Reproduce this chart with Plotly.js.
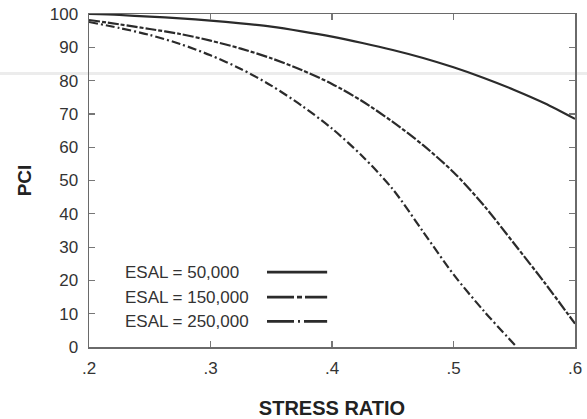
<!DOCTYPE html>
<html>
<head>
<meta charset="utf-8">
<script src="https://cdn.plot.ly/plotly-3.0.1.min.js"></script>
<style>html,body{margin:0;padding:0;background:#fff;}#chart{width:587px;height:419px;}</style>
</head>
<body>
<div id="chart"></div>
<script>
// ---- data ----
const stressRatio = [0.2, 0.225, 0.25, 0.275, 0.3, 0.325, 0.35, 0.375, 0.4, 0.425, 0.45, 0.475, 0.5, 0.525, 0.55, 0.575, 0.6];
const pci50k  = [100, 99.7, 99.2, 98.7, 98.0, 97.2, 96.2, 94.8, 93.2, 91.3, 89.2, 86.8, 84.0, 80.8, 77.2, 73.2, 68.5];
const pci150k = [98.2, 96.9, 95.5, 94.0, 92.0, 89.6, 86.7, 83.2, 79.0, 73.8, 67.6, 60.6, 52.5, 42.5, 31.0, 19.3, 7.0];
const stressRatio250k = [0.2, 0.225, 0.25, 0.275, 0.3, 0.325, 0.35, 0.375, 0.4, 0.425, 0.45, 0.475, 0.5, 0.525, 0.552];
const pci250k = [97.6, 95.8, 93.7, 91.0, 87.6, 83.5, 78.5, 72.5, 65.6, 57.3, 47.4, 34.6, 21.8, 10.8, 0];
const seriesNames = ['ESAL = 50,000', 'ESAL = 150,000', 'ESAL = 250,000'];
const xTickVals = [0.2, 0.3, 0.4, 0.5, 0.6];
const xTickText = ['.2', '.3', '.4', '.5', '.6'];
const yTickVals = [0, 10, 20, 30, 40, 50, 60, 70, 80, 90, 100];

const FONT = 'Liberation Sans, Arial, sans-serif';
const lineColor = '#2b2b2b';
const dashes = ['solid', '11px,2px,4px,2px', '9px,3px,2px,3px'];
const widths = [2.2, 2.2, 2.2];

const traces = [
  {x: stressRatio, y: pci50k, name: seriesNames[0]},
  {x: stressRatio, y: pci150k, name: seriesNames[1]},
  {x: stressRatio250k, y: pci250k, name: seriesNames[2]}
].map((t, i) => Object.assign(t, {
  type: 'scatter', mode: 'lines',
  line: {color: lineColor, width: widths[i], dash: dashes[i], shape: 'spline', smoothing: 0.8},
  showlegend: false, hoverinfo: 'skip'
}));

// legend (text left, line sample right), placed in data coordinates
const legY = [22.5, 15.0, 7.7];
const legDash = ['solid', '27px,3px,5px,3px,40px', '27px,4px,2px,4px,40px'];
const annotations = seriesNames.map((n, i) => ({
  x: 0.228, y: legY[i], xref: 'x', yref: 'y', text: n, showarrow: false,
  xanchor: 'left', yanchor: 'middle',
  font: {family: FONT, size: 17, color: '#333'}
}));
const shapes = seriesNames.map((n, i) => ({
  type: 'line', xref: 'x', yref: 'y', x0: 0.3465, x1: 0.396, y0: legY[i], y1: legY[i],
  line: {color: lineColor, width: 2.8, dash: legDash[i]}
}));
// faint scan band across the page
shapes.push({type: 'line', xref: 'paper', yref: 'paper', x0: -0.2, x1: 1.05, y0: 0.821, y1: 0.821,
  line: {color: '#ececec', width: 3}, layer: 'below'});

const axisCommon = {
  showgrid: false, zeroline: false, showline: true, mirror: 'ticks',
  linecolor: '#6a6a6a', linewidth: 1.5,
  ticks: 'inside', ticklen: 6, tickwidth: 1.2, tickcolor: '#777',
  tickfont: {family: FONT, size: 17, color: '#333'}
};

const layout = {
  width: 587, height: 419,
  margin: {l: 89, r: 12, t: 14, b: 72},
  paper_bgcolor: '#fff', plot_bgcolor: '#fff',
  xaxis: Object.assign({}, axisCommon, {
    range: [0.2, 0.6], tickvals: xTickVals, ticktext: xTickText,
    ticklabelstandoff: 5,
    title: {text: 'STRESS RATIO', standoff: 25,
      font: {family: FONT, size: 20, color: '#222', weight: 'bold'}}
  }),
  yaxis: Object.assign({}, axisCommon, {
    range: [0, 100], tickvals: yTickVals, ticklabelstandoff: 6,
    title: {text: 'PCI', standoff: 13,
      font: {family: FONT, size: 19, color: '#222', weight: 'bold'}}
  }),
  annotations: annotations,
  shapes: shapes
};

Plotly.newPlot('chart', traces, layout, {staticPlot: true, displayModeBar: false});
</script>
</body>
</html>
